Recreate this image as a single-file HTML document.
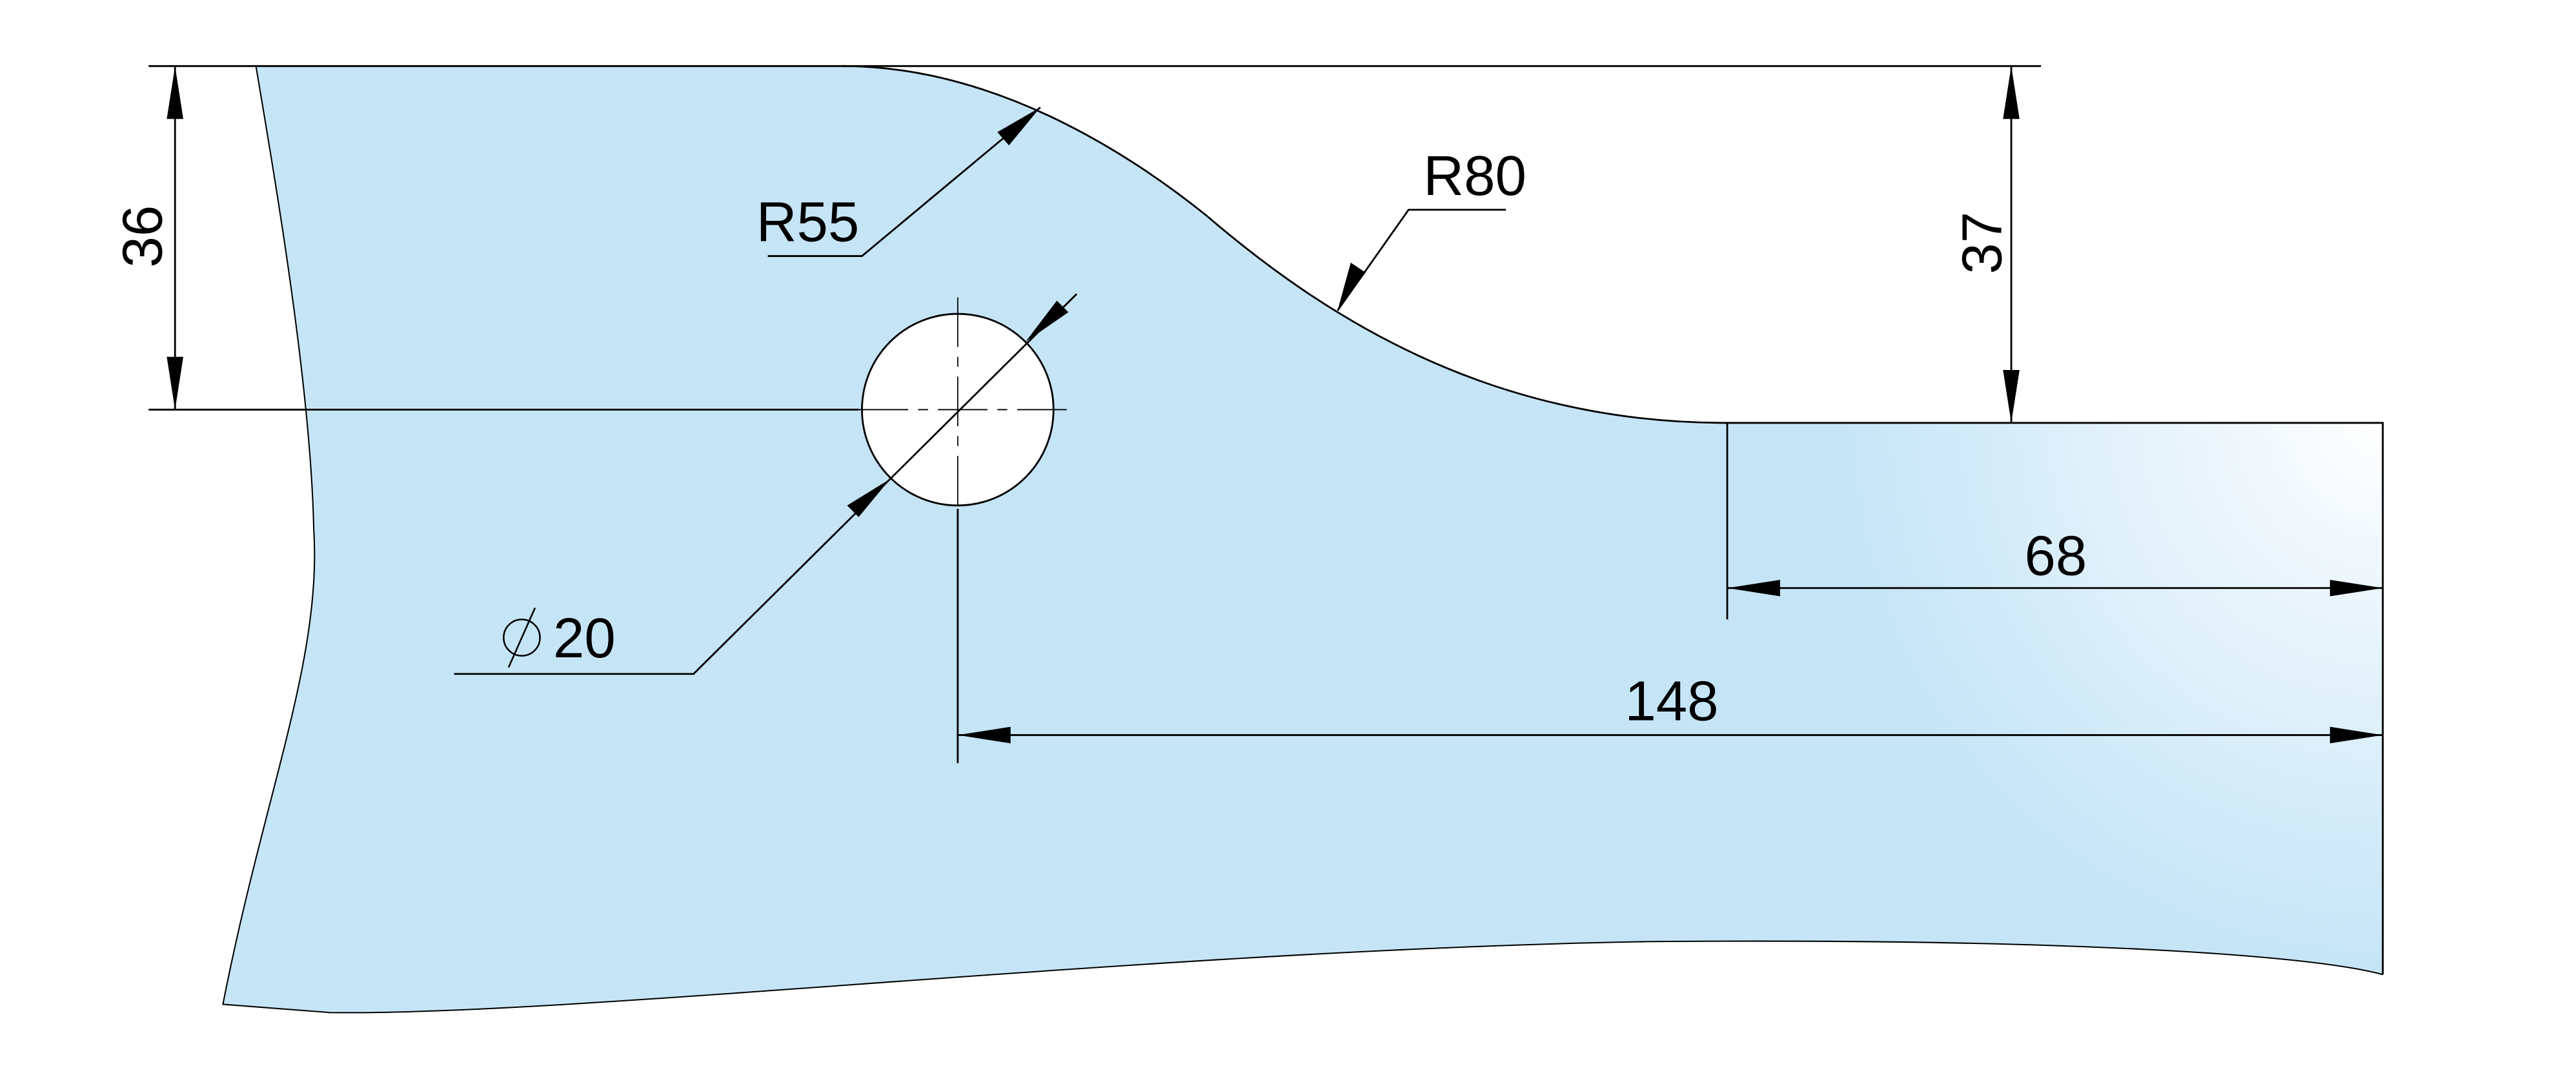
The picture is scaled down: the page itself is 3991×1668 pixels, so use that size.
<!DOCTYPE html>
<html><head><meta charset="utf-8"><style>
html,body{margin:0;padding:0;background:#fff;}
svg{display:block;}
text{font-family:"Liberation Sans",sans-serif;font-size:34px;fill:#000;}
</style></head><body>
<svg width="3991" height="1668" viewBox="0 0 1560 652" preserveAspectRatio="none" xmlns="http://www.w3.org/2000/svg">
<defs>
<radialGradient id="g" cx="1443" cy="256" r="330" gradientUnits="userSpaceOnUse">
<stop offset="0" stop-color="#ffffff"/>
<stop offset="0.35" stop-color="#eaf5fc"/>
<stop offset="1" stop-color="#c5e5f6"/>
</radialGradient>
</defs>
<path d="M155,40 L510,40 C600,40 680,90 730,130 C800,190 900,256 1045,256 L1443,256 L1443,590 C1400,578 1250,568 1000,570 C700,575 350,615 200,613 L135,608 C160,480 195,400 190,320 C188,230 165,100 155,40 Z" fill="url(#g)" stroke="none"/>
<g fill="none" stroke="#000" stroke-width="1.1">
<path d="M510,40 C600,40 680,90 730,130 C800,190 900,256 1045,256 L1443,256 L1443,590"/>
<path d="M1443,590 C1400,578 1250,568 1000,570 C700,575 350,615 200,613 L135,608 C160,480 195,400 190,320 C188,230 165,100 155,40" stroke-width="0.8"/>
<circle cx="580" cy="248" r="58" fill="#fff"/>
<line x1="90" y1="40" x2="1236" y2="40"/>
<line x1="90" y1="248" x2="520" y2="248"/>
<line x1="106" y1="40" x2="106" y2="248"/>
<line x1="1218" y1="40" x2="1218" y2="256"/>
<line x1="1046" y1="256" x2="1046" y2="375"/>
<line x1="1046" y1="356" x2="1443" y2="356"/>
<line x1="580" y1="308" x2="580" y2="462"/>
<line x1="580" y1="445" x2="1443" y2="445"/>
<path d="M652,178 L420,408 L275,408"/>
<path d="M630,65 L522,155 L465,155"/>
<path d="M810,188 L853,127 L912,127"/>
<path d="M520,248 H650 M580,180 V308" stroke-dasharray="30,6,6,6" stroke-width="0.7"/>
</g>
<g fill="#000">
<polygon points="106,40 101,72 111,72"/>
<polygon points="106,248 101,216 111,216"/>
<polygon points="1218,40 1213,72 1223,72"/>
<polygon points="1218,256 1213,224 1223,224"/>
<polygon points="1046,356 1078,351 1078,361"/>
<polygon points="1443,356 1411,351 1411,361"/>
<polygon points="580,445 612,440 612,450"/>
<polygon points="1443,445 1411,440 1411,450"/>
<polygon points="630,65 604,80 611,88"/>
<polygon points="621,207 640,182 647,189"/>
<polygon points="539,290 513,306 520,313"/>
<polygon points="810,188 818,159 827,165"/>
</g>
<text x="0" y="0" transform="translate(98,162) rotate(-90)">36</text>
<text x="0" y="0" transform="translate(1212,166) rotate(-90)">37</text>
<text x="458" y="146">R55</text>
<text x="862" y="118">R80</text>
<text x="1226" y="348">68</text>
<text x="984" y="436">148</text>
<text x="335" y="398">20</text>
<circle cx="316" cy="386" r="11" fill="none" stroke="#000" stroke-width="1"/>
<line x1="308" y1="404" x2="324" y2="368" stroke="#000" stroke-width="1"/>
</svg>
</body></html>
